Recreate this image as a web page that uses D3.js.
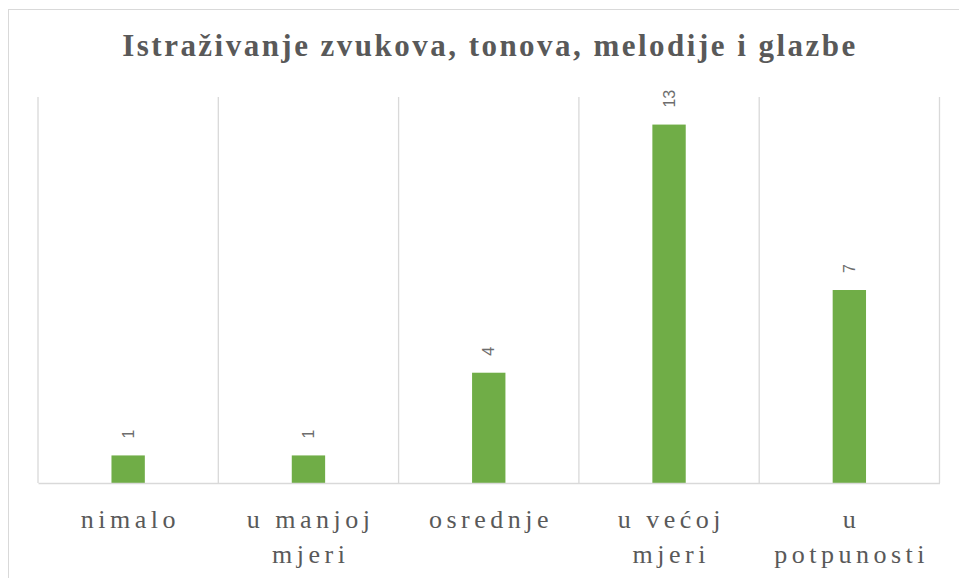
<!DOCTYPE html>
<html>
<head>
<meta charset="utf-8">
<script src="https://cdn.jsdelivr.net/npm/d3@7"></script>
<style>
  html, body { margin: 0; padding: 0; background: #fff; }
  svg { display: block; }
</style>
</head>
<body>
<svg id="chart" width="959" height="578"></svg>
<script>
const title = "Istraživanje zvukova, tonova, melodije i glazbe";
const categories = ["nimalo", "u manjoj mjeri", "osrednje", "u većoj mjeri", "u potpunosti"];
const values = [1, 1, 4, 13, 7];
const yMax = 14;

const svg = d3.select("#chart");
const W = 959, H = 578;
const plot = { left: 38, right: 939.5, top: 97, bottom: 483 };

// chart border
svg.append("rect")
  .attr("x", 8.5).attr("y", 9.5)
  .attr("width", W).attr("height", H)
  .attr("fill", "#fff").attr("stroke", "#d9d9d9").attr("stroke-width", 1);

const x = d3.scaleBand().domain(categories).range([plot.left, plot.right]).paddingInner(0).paddingOuter(0);
const y = d3.scaleLinear().domain([0, yMax]).range([plot.bottom, plot.top]);

// vertical gridlines at category boundaries
const bounds = categories.map(c => x(c)).concat([plot.right]);
svg.append("g").selectAll("line").data(bounds).join("line")
  .attr("x1", d => d).attr("x2", d => d)
  .attr("y1", plot.top).attr("y2", plot.bottom)
  .attr("stroke", "#d9d9d9").attr("stroke-width", 1.3);

// bars
const barW = x.bandwidth() * 0.185;
svg.append("g").selectAll("rect").data(values).join("rect")
  .attr("x", (d, i) => x(categories[i]) + x.bandwidth() / 2 - barW / 2)
  .attr("width", barW)
  .attr("y", d => y(d))
  .attr("height", d => y(0) - y(d))
  .attr("fill", "#70ad47");

// baseline axis
const xAxis = d3.axisBottom(x).tickSize(0).tickFormat("");
const gx = svg.append("g").attr("transform", `translate(0,${plot.bottom})`).call(xAxis);
gx.select(".domain").attr("stroke", "#d9d9d9").attr("stroke-width", 1.5);

// data labels (rotated)
svg.append("g").selectAll("text").data(values).join("text")
  .attr("transform", (d, i) => `translate(${x(categories[i]) + x.bandwidth() / 2},${y(d) - 17}) rotate(-90)`)
  .attr("dy", "0.35em")
  .attr("text-anchor", "start")
  .attr("font-family", "Liberation Sans, Arial, sans-serif")
  .attr("font-size", 16)
  .attr("fill", "#6d6d6d")
  .text(d => d);

// category labels with wrapping
const labelG = svg.append("g");
const maxW = 175;
const ls = 4.5;
categories.forEach(c => {
  const cx = x(c) + x.bandwidth() / 2;
  const t = labelG.append("text")
    .attr("x", cx).attr("y", 528)
    .attr("text-anchor", "middle")
    .attr("font-family", "Liberation Serif, Times New Roman, serif")
    .attr("font-size", 26)
    .attr("letter-spacing", ls)
    .attr("fill", "#595959");
  const words = c.split(" ");
  let lines = [];
  let line = [];
  const probe = t.append("tspan");
  words.forEach(w => {
    const test = line.concat([w]).join(" ");
    probe.text(test);
    if (line.length && probe.node().getComputedTextLength() > maxW) {
      lines.push(line.join(" "));
      line = [w];
    } else {
      line.push(w);
    }
  });
  lines.push(line.join(" "));
  probe.remove();
  lines.forEach((l, i) => {
    t.append("tspan").attr("x", cx + ls / 2).attr("y", 528 + i * 35).text(l);
  });
});

// title
svg.append("text")
  .attr("x", (plot.left + plot.right) / 2).attr("y", 56)
  .attr("text-anchor", "middle")
  .attr("font-family", "Liberation Serif, Times New Roman, serif")
  .attr("font-weight", "bold")
  .attr("font-size", 31)
  .attr("textLength", 733)
  .attr("lengthAdjust", "spacing")
  .attr("fill", "#595959")
  .text(title);
</script>
</body>
</html>
